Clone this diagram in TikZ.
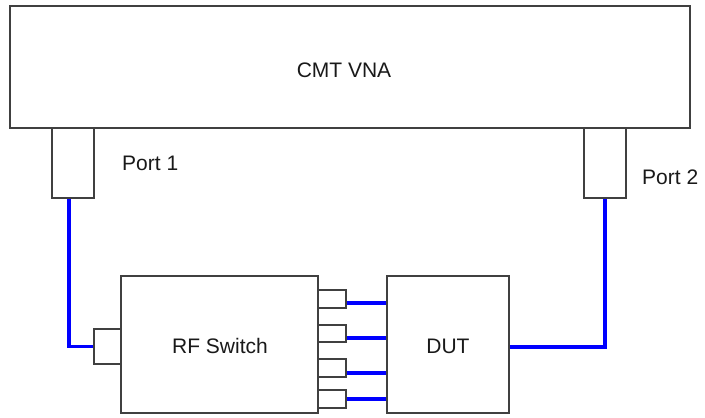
\documentclass[tikz,border=0pt]{standalone}
\usepackage{fontspec}
\setmainfont{Liberation Sans}
\begin{document}
\begin{tikzpicture}[x=1pt,y=-1pt,
  box/.style={draw=black!75, line width=1.6pt, fill=white, inner sep=0pt, rectangle},
  cable/.style={draw=blue, line width=3.6pt},
  lbl/.style={font=\fontsize{21}{25}\selectfont, text=black!90, inner sep=0pt}]
\useasboundingbox (0,0) rectangle (705,418);
% main boxes
\node[box, minimum width=680pt, minimum height=122pt] (vna) at (350,67) {};
\node[lbl] (vnat) at (344,70) {CMT VNA};
\node[box, minimum width=42pt, minimum height=70pt] (p1) at (73,163) {};
\node[box, minimum width=42pt, minimum height=70pt] (p2) at (605,163) {};
\node[lbl, anchor=west] (p1t) at (122,163) {Port 1};
\node[lbl, anchor=west] (p2t) at (642,177) {Port 2};
\node[box, minimum width=197pt, minimum height=137pt] (sw) at (219.5,344.5) {};
\node[lbl] (swt) at (220,346) {RF Switch};
\node[box, minimum width=122pt, minimum height=137pt] (dut) at (448,344.5) {};
\node[lbl] (dutt) at (448,346) {DUT};
% connectors
\node[box, minimum width=27pt, minimum height=35pt] (c0) at (107.5,346.5) {};
\node[box, minimum width=28pt, minimum height=18pt] (c1) at (332,299) {};
\node[box, minimum width=28pt, minimum height=17pt] (c2) at (332,333.5) {};
\node[box, minimum width=28pt, minimum height=18pt] (c3) at (332,368) {};
\node[box, minimum width=28pt, minimum height=18pt] (c4) at (332,399) {};
% cables
\draw[cable] ([xshift=-4pt]p1.south) |- (c0.west);
\draw[cable] ([yshift=-4pt]c1.east) -- ([yshift=-4pt]c1.east -| dut.west);
\draw[cable] ([yshift=-4.5pt]c2.east) -- ([yshift=-4.5pt]c2.east -| dut.west);
\draw[cable] ([yshift=-5pt]c3.east) -- ([yshift=-5pt]c3.east -| dut.west);
\draw[cable] (c4.east) -- (c4.east -| dut.west);
\draw[cable] ([yshift=-2.5pt]dut.east) -| (p2.south);
\end{tikzpicture}
\end{document}
